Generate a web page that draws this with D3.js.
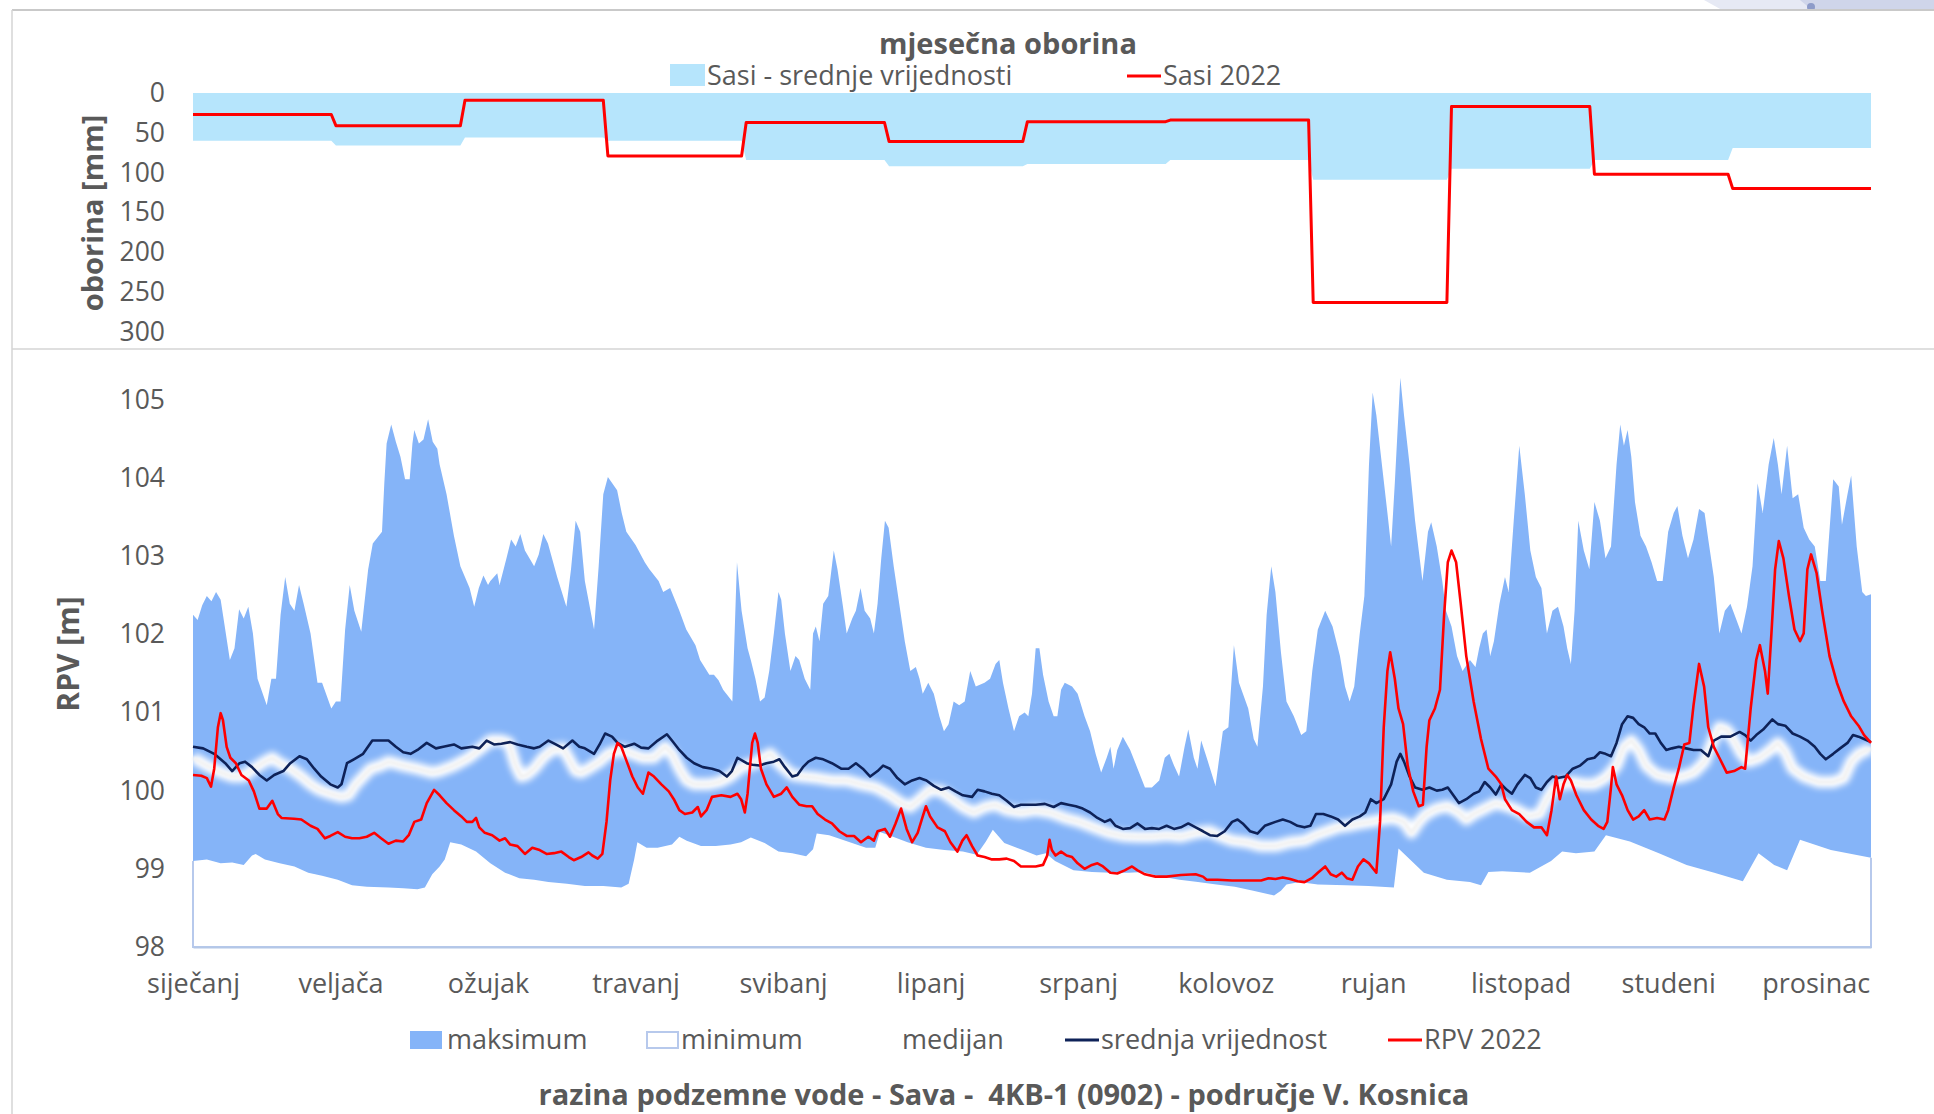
<!doctype html>
<html>
<head>
<meta charset="utf-8"/>
<script src="https://d3js.org/d3.v7.min.js"></script>
<style>
body{margin:0;background:#fff;overflow:hidden;}
text{font-family:"Open Sans",sans-serif;fill:#595959;}
</style>
</head>
<body>
<script>
// ---- data ----
var monthNames=["siječanj","veljača","ožujak","travanj","svibanj","lipanj","srpanj","kolovoz","rujan","listopad","studeni","prosinac"];
var monthDays=[31,28,31,30,31,30,31,31,30,31,30,31];
var precMean=[60,66,56,60,84,92,89,84,109,95,84,69];   // Sasi - srednje vrijednosti [mm]
var prec2022=[27,41,9,79,37,61,36,34,263,17,102,120]; // Sasi 2022 [mm]
var precTicks=[0,50,100,150,200,250,300];
var rpvTicks=[98,99,100,101,102,103,104,105];

// [day of year (0 = 1.1.), RPV m]
var maxData=[[0,102.25],[1,102.18],[2,102.37],[3,102.49],[4,102.42],[5,102.54],[6,102.44],[6.5,102.25],[8,101.67],[9,101.82],[10,102.32],[11,102.2],[12,102.35],[13,102.01],[14,101.43],[16,101.09],[17,101.43],[18,101.43],[19,102.25],[20,102.73],[21,102.39],[22,102.3],[23,102.63],[24,102.39],[25.5,102.01],[27,101.38],[28,101.38],[30,101.05],[31,101.14],[32,101.14],[33,102.06],[34,102.63],[35,102.3],[36.5,102.03],[37,102.3],[38,102.83],[39,103.16],[41,103.31],[41.5,103.93],[42,104.44],[43,104.68],[44,104.46],[45,104.27],[46,103.98],[47,103.98],[47.6,104.44],[48,104.61],[49,104.44],[50,104.49],[51,104.75],[52,104.46],[53,104.37],[53.5,104.17],[55,103.79],[56.6,103.26],[58,102.87],[60,102.59],[61,102.35],[62,102.59],[63,102.75],[64,102.63],[64.5,102.68],[66,102.78],[66.5,102.63],[68,102.97],[69,103.21],[70,103.12],[71,103.28],[72,103.07],[74,102.87],[75,103.02],[76,103.28],[77,103.16],[79,102.73],[81,102.35],[82,102.83],[83,103.45],[84,103.31],[85,102.68],[87,102.06],[88,102.87],[89,103.79],[90,104.01],[92,103.84],[93,103.55],[94,103.31],[96,103.14],[98,102.92],[99,102.83],[101,102.68],[102,102.54],[103.5,102.59],[105.5,102.3],[107,102.06],[109,101.86],[110,101.67],[112,101.48],[113,101.48],[114,101.41],[115,101.29],[117,101.14],[118,102.92],[119,102.3],[120.3,101.82],[121,101.67],[122,101.43],[123,101.14],[124,101.19],[125,101.53],[126,102.01],[127,102.54],[127.6,102.44],[128.4,102.01],[129.6,101.53],[130.7,101.72],[131.5,101.67],[132.7,101.43],[133.9,101.29],[134.5,102.01],[135.1,102.1],[135.9,101.91],[136.7,102.39],[137.8,102.49],[139,103.07],[139.8,102.83],[141,102.35],[141.8,102.01],[143,102.2],[143.8,102.3],[144.8,102.59],[145.7,102.3],[146.9,102.2],[147.7,102.01],[148.5,102.39],[149.3,102.97],[150.1,103.45],[150.9,103.36],[152,102.87],[153.2,102.39],[154.4,101.91],[155.6,101.53],[156.8,101.58],[157.6,101.43],[158.3,101.24],[159.5,101.38],[160.7,101.24],[161.9,100.95],[162.9,100.76],[163.9,100.85],[165,101.14],[166.2,101.09],[167.4,101.14],[168.6,101.53],[169.8,101.33],[171.7,101.38],[172.9,101.43],[174.1,101.62],[174.9,101.67],[175.7,101.38],[176.9,101.05],[178.1,100.76],[179.2,100.95],[180.4,101.0],[181.2,100.95],[182,101.24],[182.8,101.82],[183.6,101.82],[184.4,101.48],[185.6,101.14],[186.7,100.95],[187.5,100.95],[188.3,101.29],[189.1,101.38],[190.7,101.33],[191.9,101.24],[193.4,100.95],[194.6,100.76],[195.8,100.47],[197,100.23],[198.2,100.42],[199,100.56],[199.7,100.28],[200.5,100.52],[201.7,100.69],[203.3,100.52],[204.9,100.28],[206.5,100.04],[208,100.04],[209.6,100.13],[210.8,100.42],[211.8,100.47],[212.8,100.32],[213.9,100.18],[215.1,100.56],[215.9,100.78],[217.1,100.42],[217.9,100.28],[218.7,100.64],[219.9,100.42],[221.8,100.06],[223.4,100.76],[224.6,100.81],[225.8,101.86],[226.9,101.38],[228.9,101.05],[230.1,100.66],[230.9,100.56],[232.1,101.33],[232.9,102.25],[233.9,102.87],[234.8,102.54],[236,101.77],[237.2,101.14],[238.8,100.95],[240.4,100.71],[241.5,100.76],[242.8,101.53],[244,102.06],[245.6,102.3],[247.2,102.1],[248.8,101.72],[249.9,101.33],[250.9,101.14],[251.9,101.33],[253.1,102.01],[254.1,102.49],[255.1,104.17],[255.9,105.09],[256.7,104.8],[257.9,104.17],[259.1,103.55],[259.9,103.12],[260.7,103.93],[261.9,105.28],[262.7,104.8],[263.9,104.17],[265.1,103.45],[266.7,102.68],[267.9,103.31],[268.6,103.43],[269.8,103.12],[271,102.68],[271.8,102.3],[273,102.1],[274.2,101.72],[275.4,101.53],[277,101.67],[278.2,101.58],[279,101.82],[279.8,102.01],[280.6,102.06],[281.4,101.72],[282.2,101.91],[283.4,102.39],[284.6,102.73],[285.4,102.54],[286.5,103.45],[287.7,104.41],[288.9,103.79],[290.1,103.07],[291.3,102.73],[292.5,102.59],[293.7,102.01],[294.9,102.3],[296.1,102.35],[297.3,102.1],[298.1,101.82],[298.9,101.62],[299.7,102.3],[300.5,103.45],[301.7,103.07],[302.9,102.83],[304,103.69],[305.2,103.45],[306.4,102.97],[307.6,103.12],[308.8,104.17],[309.6,104.68],[310.4,104.41],[311.2,104.61],[312,104.27],[312.8,103.69],[314,103.26],[315.2,103.12],[316.4,102.92],[317.6,102.68],[318.8,102.68],[320,103.31],[321.2,103.55],[322,103.64],[323.1,103.26],[324.3,102.97],[325.5,103.21],[326.7,103.6],[327.9,103.55],[328.7,103.21],[329.9,102.73],[331.1,102.01],[332.3,102.3],[333.5,102.39],[334.7,102.2],[335.9,102.01],[337.1,102.35],[338.3,102.87],[339.4,103.93],[340.5,103.55],[341.8,104.17],[342.9,104.51],[343.8,104.17],[344.6,103.79],[345.8,104.41],[347,103.74],[348.2,103.79],[349.4,103.36],[350.6,103.21],[351.8,103.12],[353,102.68],[354.2,102.68],[355.8,103.98],[357,103.89],[357.7,103.4],[358.9,103.79],[359.7,104.03],[360.9,103.12],[362.1,102.54],[362.9,102.49],[364,102.51]];

var minData=[[0,99.1],[3,99.12],[6,99.07],[8.5,99.08],[11,99.05],[12.8,99.17],[13.6,99.19],[15.6,99.12],[18.8,99.07],[22,99.03],[25,98.95],[28,98.91],[31.4,98.86],[34.5,98.79],[37.7,98.77],[42.4,98.76],[45.6,98.75],[48.7,98.74],[50.3,98.76],[51.9,98.93],[53.5,99.03],[54.6,99.12],[55.8,99.34],[58.2,99.31],[61.4,99.22],[64.5,99.07],[67.7,98.95],[70.8,98.88],[74,98.86],[77.1,98.83],[81.1,98.81],[85,98.78],[89,98.78],[92.9,98.76],[94.5,98.81],[95.7,99.12],[96.4,99.34],[98.4,99.27],[100.8,99.27],[103.9,99.31],[105.5,99.41],[107.1,99.36],[110.2,99.29],[113.4,99.29],[116.6,99.31],[118.9,99.34],[121,99.4],[124,99.33],[127,99.22],[130,99.2],[133,99.16],[134.5,99.25],[135.3,99.45],[138,99.43],[142,99.35],[146,99.27],[148,99.27],[149,99.47],[151,99.43],[155,99.34],[159,99.27],[163,99.24],[167,99.22],[170,99.18],[172,99.35],[173.5,99.5],[176,99.33],[180,99.24],[183,99.17],[185,99.2],[187,99.1],[191,98.98],[195,98.96],[199,98.95],[203,98.95],[206,98.96],[210,98.9],[214,98.86],[218,98.83],[222,98.8],[226,98.77],[230,98.72],[234.5,98.66],[236,98.72],[237.2,98.8],[240,98.83],[244,98.8],[250,98.79],[255,98.78],[260.5,98.76],[261.5,99.26],[264,99.12],[267,98.95],[272,98.86],[277,98.83],[279.4,98.79],[281,98.96],[284,98.97],[290,98.95],[294.6,99.1],[297,99.22],[300,99.2],[304,99.22],[306.5,99.43],[311.7,99.35],[318,99.2],[324,99.05],[330,98.95],[336.2,98.84],[339.6,99.2],[343,99.05],[345.8,98.98],[348.6,99.37],[355.3,99.24],[364,99.14]];

var medianData=[[0,100.42],[3,100.32],[6.1,100.23],[8.5,100.18],[10.9,100.18],[13.2,100.28],[15.6,100.37],[17.2,100.42],[18.8,100.35],[21.1,100.28],[23.5,100.18],[25.5,100.08],[27.4,100.01],[29.8,99.96],[32.2,99.92],[33.7,99.94],[35.3,100.08],[36.9,100.18],[38.5,100.28],[40.8,100.32],[42.4,100.37],[45.6,100.32],[48.7,100.28],[51.9,100.23],[53.5,100.25],[56.6,100.32],[59.8,100.42],[62.9,100.56],[64.5,100.64],[66.9,100.64],[68.5,100.61],[70,100.32],[71.2,100.18],[72.4,100.2],[74,100.28],[75.9,100.42],[77.9,100.52],[80.3,100.54],[81.9,100.37],[83,100.25],[84.2,100.23],[85.8,100.28],[88.2,100.37],[90.1,100.47],[92.9,100.52],[95.3,100.47],[97.6,100.42],[100,100.42],[102.4,100.56],[103.9,100.47],[105.5,100.28],[107.1,100.13],[108.7,100.08],[111.8,100.08],[114.2,100.11],[116.6,100.18],[118.9,100.3],[121.9,100.35],[125.2,100.47],[127.6,100.32],[130,100.2],[132.3,100.18],[135.5,100.16],[138.6,100.13],[141.8,100.13],[144.9,100.08],[148.1,100.04],[151.2,99.94],[153.6,99.84],[155.6,99.79],[157.6,99.89],[159.9,100.01],[162.3,99.99],[164.7,99.89],[167,99.79],[169.4,99.72],[171.7,99.79],[174.1,99.82],[176.5,99.75],[179.6,99.72],[182.8,99.75],[186,99.72],[189.1,99.65],[192.3,99.6],[195.4,99.53],[198.6,99.46],[201.7,99.42],[204.9,99.41],[208,99.41],[211.2,99.43],[214.3,99.41],[217.5,99.46],[220.6,99.48],[222.2,99.43],[225.4,99.36],[228.5,99.34],[231.7,99.29],[234.8,99.29],[238,99.34],[241.2,99.36],[243.6,99.43],[246,99.48],[248.4,99.53],[250.7,99.55],[253.1,99.58],[255.5,99.6],[257.9,99.63],[260.3,99.65],[262.7,99.6],[264.3,99.46],[265.9,99.6],[267.5,99.7],[269.8,99.77],[272.2,99.8],[274.6,99.72],[276.2,99.63],[277.8,99.7],[280.2,99.77],[282.6,99.84],[285,99.8],[287.3,99.75],[289.7,99.67],[292.1,99.7],[293.7,99.89],[295.3,100.04],[296.9,100.08],[299.3,100.11],[301.7,100.08],[304,100.08],[306.4,100.16],[308.8,100.32],[310.4,100.56],[312,100.64],[313.6,100.52],[315.2,100.32],[317.6,100.2],[320.8,100.16],[323.1,100.18],[325.5,100.23],[327.9,100.37],[329.5,100.61],[331.1,100.81],[332.7,100.78],[334.3,100.64],[335.9,100.47],[337.5,100.37],[339.9,100.42],[342.2,100.52],[343.8,100.61],[345.4,100.49],[347,100.28],[349.4,100.18],[352.6,100.11],[355.8,100.11],[358.1,100.16],[359.7,100.37],[361.3,100.47],[364,100.54]];

var meanData=[[0,100.56],[2.2,100.54],[4.6,100.47],[7,100.35],[8.5,100.25],[10.1,100.35],[11.3,100.37],[12.8,100.3],[14.4,100.2],[16,100.13],[17.6,100.2],[19.6,100.25],[21.1,100.35],[23.1,100.44],[24.7,100.4],[26.3,100.28],[27.8,100.18],[29.8,100.08],[31.4,100.04],[32.2,100.08],[33.4,100.35],[34.9,100.4],[36.9,100.47],[38.9,100.64],[40.8,100.64],[42.4,100.64],[44,100.56],[45.6,100.49],[47.2,100.47],[48.7,100.52],[50.7,100.61],[52.7,100.54],[54.3,100.56],[56.6,100.59],[58.2,100.54],[60.6,100.56],[62.1,100.54],[63.7,100.64],[65.3,100.59],[66.9,100.6],[68.8,100.62],[70.4,100.59],[72.4,100.56],[74,100.54],[75.2,100.56],[77.1,100.64],[78.7,100.59],[80.3,100.54],[82.3,100.64],[83.8,100.56],[85,100.54],[87,100.47],[88.2,100.59],[89.4,100.73],[90.9,100.69],[92.1,100.61],[93.7,100.56],[95.7,100.6],[97.2,100.55],[98.8,100.54],[100.8,100.64],[102.8,100.72],[103.9,100.64],[105.5,100.52],[107.1,100.42],[108.7,100.35],[110.6,100.3],[112.6,100.28],[114.2,100.25],[115.8,100.18],[116.9,100.25],[118.1,100.42],[120.1,100.35],[121.3,100.33],[122.9,100.32],[124.4,100.35],[126,100.37],[127.2,100.4],[128.4,100.3],[130,100.18],[131.1,100.2],[132.3,100.3],[133.5,100.37],[135.1,100.42],[136.7,100.4],[138.6,100.35],[140.6,100.28],[142.2,100.28],[143.8,100.35],[145.3,100.28],[146.9,100.18],[148.5,100.25],[149.7,100.32],[151.2,100.28],[152.8,100.16],[154.4,100.08],[156,100.13],[157.6,100.16],[159.1,100.13],[160.7,100.06],[162.3,100.01],[163.9,100.04],[165.4,99.99],[167,99.94],[169,99.92],[170.2,100.01],[171.7,99.99],[173.3,99.96],[174.9,99.94],[176.5,99.87],[178.1,99.79],[179.6,99.82],[181.2,99.82],[182.8,99.82],[184.8,99.83],[186.7,99.79],[188.3,99.84],[189.9,99.82],[191.5,99.8],[193,99.77],[194.6,99.72],[196.2,99.65],[197.8,99.6],[199,99.63],[200.1,99.55],[201.7,99.51],[203.3,99.52],[204.9,99.58],[206.5,99.51],[208,99.52],[209.6,99.51],[211.2,99.55],[212.8,99.51],[214.3,99.53],[215.9,99.58],[217.5,99.53],[219.1,99.48],[220.6,99.43],[222.2,99.42],[223.8,99.48],[225.4,99.6],[226.6,99.63],[227.7,99.58],[229.3,99.48],[230.9,99.45],[232.5,99.55],[234.8,99.6],[236.4,99.63],[238,99.6],[239.6,99.55],[241.1,99.53],[242.4,99.55],[243.6,99.7],[245.2,99.7],[246.8,99.67],[248.4,99.63],[249.9,99.55],[251.5,99.63],[253.1,99.67],[254.3,99.72],[255.5,99.89],[256.7,99.84],[258.3,99.89],[259.9,100.08],[261.1,100.37],[261.9,100.47],[262.7,100.37],[263.9,100.18],[265.1,100.04],[266.7,100.01],[268.2,100.04],[269.8,100.0],[271,100.01],[272.2,100.04],[273.4,99.94],[274.6,99.84],[276.2,99.89],[277.8,99.96],[279,99.99],[280.2,100.11],[281.4,100.04],[282.6,99.95],[283.8,100.08],[285,100.01],[286.1,99.96],[287.3,100.08],[288.9,100.2],[290.1,100.16],[291.3,100.04],[292.5,100.01],[293.7,100.11],[294.9,100.18],[296.1,100.16],[297.7,100.18],[299.3,100.28],[300.9,100.32],[302.5,100.4],[304,100.42],[305.2,100.49],[306.4,100.47],[307.6,100.44],[308.8,100.61],[310,100.85],[311.2,100.95],[312.4,100.93],[313.6,100.85],[314.8,100.81],[316,100.73],[317.2,100.73],[318.4,100.61],[319.6,100.52],[320.8,100.54],[322.3,100.56],[323.9,100.54],[325.5,100.52],[327.1,100.52],[328.7,100.44],[329.9,100.64],[331.5,100.69],[333.5,100.69],[335.5,100.75],[336.7,100.71],[337.9,100.64],[339.1,100.71],[340.6,100.78],[342.6,100.91],[343.8,100.85],[345.4,100.83],[347,100.73],[348.6,100.69],[350.2,100.64],[351.8,100.56],[353,100.47],[354.2,100.4],[355.8,100.47],[357.3,100.54],[358.9,100.61],[360.1,100.71],[361.3,100.69],[362.5,100.66],[364,100.62]];

var rpv2022=[[0,100.2],[1.8,100.19],[3,100.16],[3.9,100.05],[4.6,100.28],[5.4,100.81],[6,100.99],[6.5,100.9],[7.3,100.56],[8.1,100.42],[9.3,100.35],[10.5,100.2],[12.1,100.13],[13.2,99.99],[14.4,99.77],[16,99.77],[17.2,99.87],[18.4,99.7],[19.2,99.65],[21.9,99.64],[23.5,99.63],[25.5,99.55],[27,99.51],[28.6,99.39],[29.8,99.42],[31.4,99.47],[33,99.41],[34.5,99.39],[36.1,99.39],[37.7,99.41],[39.3,99.46],[40.8,99.39],[42.4,99.32],[44,99.36],[45.6,99.35],[46.8,99.43],[48,99.6],[49.5,99.63],[50.7,99.84],[52.3,100.01],[53.5,99.94],[55,99.84],[56.6,99.75],[58.2,99.67],[59.4,99.6],[60.6,99.6],[61.4,99.65],[62.1,99.53],[63.3,99.46],[64.9,99.43],[66.5,99.36],[67.7,99.39],[68.8,99.31],[70.4,99.29],[72,99.19],[73.6,99.27],[75.2,99.24],[76.7,99.19],[78.3,99.2],[79.9,99.22],[81.5,99.15],[82.6,99.11],[84.2,99.15],[85.8,99.21],[86.6,99.17],[87.8,99.13],[88.8,99.19],[89.7,99.6],[90.5,100.13],[91.3,100.47],[92.1,100.61],[92.9,100.56],[94.1,100.37],[95.3,100.18],[96.5,100.04],[97.6,99.96],[98.8,100.23],[100,100.18],[101.6,100.08],[103.2,99.99],[104.3,99.89],[105.5,99.75],[106.7,99.7],[108.3,99.72],[109.5,99.79],[110.2,99.67],[111.4,99.75],[112.6,99.92],[114.6,99.94],[116.6,99.92],[118.1,99.96],[118.9,99.89],[119.7,99.72],[120.3,99.96],[121.3,100.61],[121.9,100.73],[122.5,100.61],[123.2,100.28],[124.4,100.08],[126,99.92],[127.6,99.96],[128.8,100.04],[130,99.92],[131.5,99.82],[133.1,99.8],[134.3,99.8],[135.5,99.7],[137.1,99.63],[138.6,99.58],[140.2,99.48],[141.8,99.42],[143.4,99.42],[144.9,99.34],[146.5,99.41],[147.7,99.36],[148.5,99.48],[150.1,99.51],[151.2,99.41],[152.4,99.58],[153.6,99.77],[154.8,99.51],[156,99.34],[157.2,99.46],[158.2,99.65],[159,99.8],[159.9,99.67],[161.5,99.53],[163.1,99.48],[164.3,99.34],[165.8,99.22],[166.9,99.36],[167.8,99.43],[169,99.29],[170.2,99.17],[171.7,99.15],[173.3,99.12],[174.9,99.12],[176.5,99.13],[178.1,99.1],[179.6,99.03],[181.2,99.03],[182.8,99.03],[184.4,99.05],[185.3,99.17],[185.8,99.37],[186.3,99.24],[187.1,99.17],[188.3,99.22],[189.5,99.17],[190.7,99.15],[191.9,99.07],[193.4,99.0],[195,99.05],[196.2,99.07],[197.4,99.03],[199,98.95],[200.5,98.94],[202.1,98.98],[203.7,99.03],[204.9,98.98],[206.5,98.93],[208.8,98.9],[211.2,98.9],[214.3,98.92],[217.5,98.93],[219.1,98.9],[219.9,98.86],[222.2,98.86],[225.4,98.85],[228.5,98.85],[231.7,98.85],[233.3,98.88],[234.8,98.87],[236.4,98.89],[238,98.87],[239.6,98.84],[241.1,98.83],[242.7,98.88],[244,98.95],[245.6,99.03],[246.8,98.93],[248,98.9],[249.2,98.95],[250.3,98.88],[251.5,98.86],[252.7,99.03],[253.9,99.12],[255.1,99.07],[256.7,98.95],[257.5,99.6],[258.3,100.81],[259.1,101.53],[259.7,101.77],[260.7,101.43],[261.5,101.05],[262.5,100.85],[263.5,100.32],[264.7,99.99],[265.9,99.8],[266.8,99.82],[267.6,100.56],[268.2,100.9],[269.4,101.05],[270.5,101.29],[271.4,102.25],[272.2,102.92],[273,103.07],[274,102.92],[275,102.39],[276.2,101.72],[277.8,101.14],[279.4,100.66],[281,100.28],[282.6,100.18],[283.8,100.08],[284.6,99.89],[286.1,99.75],[287.7,99.7],[289.3,99.6],[290.9,99.53],[292.5,99.53],[293.7,99.43],[294.7,99.75],[295.7,100.18],[296.5,99.89],[297.3,100.08],[298.1,100.2],[298.9,100.13],[300.1,99.94],[301.7,99.75],[303.3,99.63],[304.8,99.55],[306,99.51],[306.8,99.6],[307.6,100.04],[308,100.3],[308.8,100.08],[310,99.94],[311.2,99.75],[312.4,99.63],[313.6,99.67],[314.8,99.75],[316,99.63],[317.6,99.65],[319.2,99.63],[320,99.75],[321.2,100.04],[322.3,100.28],[323.5,100.59],[324.6,100.61],[325.5,101.09],[326.7,101.62],[327.8,101.33],[328.7,100.81],[329.9,100.56],[331.1,100.42],[332.7,100.23],[334.3,100.25],[335.9,100.3],[336.7,100.28],[337.9,101.05],[339.1,101.67],[339.9,101.86],[341,101.53],[341.6,101.24],[342.4,102.01],[343.2,102.83],[344,103.19],[345,102.97],[346.2,102.49],[347.4,102.06],[348.6,101.91],[349.4,102.01],[350.2,102.83],[351,103.02],[352.2,102.78],[353.4,102.3],[355,101.72],[356.6,101.38],[358.1,101.14],[359.7,100.95],[361.3,100.83],[362.5,100.71],[364,100.61]];

// ---- layout ----
var W=1934,H=1114;
var LABEL_STEP=32;  // month label every 32 days, like the original category axis
var svg=d3.select("body").append("svg").attr("width",W).attr("height",H);
var defs=svg.append("defs");
defs.append("filter").attr("id","glow").attr("x","-5%").attr("y","-50%").attr("width","110%").attr("height","200%")
  .append("feGaussianBlur").attr("stdDeviation",3);
defs.append("filter").attr("id","soft").attr("x","-5%").attr("y","-50%").attr("width","110%").attr("height","200%")
  .append("feGaussianBlur").attr("stdDeviation",0.8);

var x=d3.scaleLinear().domain([0,364]).range([193,1871]);
var yP=d3.scaleLinear().domain([0,300]).range([93,332]);
var yR=d3.scaleLinear().domain([98,105]).range([947,399.6]);

// frames
svg.append("path").attr("d","M1704,0 L1722,10 L1934,10 L1934,0 Z").attr("fill","#e6e9f4");
svg.append("path").attr("d","M1800,0 L1812,10 L1934,10 L1934,0 Z").attr("fill","#cfd5ea");
svg.append("circle").attr("cx",1811).attr("cy",7).attr("r",4).attr("fill","#8d9bc9");
svg.append("line").attr("x1",12).attr("x2",W).attr("y1",10).attr("y2",10).attr("stroke","#c9c9c9").attr("stroke-width",2);
svg.append("line").attr("x1",12).attr("x2",12).attr("y1",10).attr("y2",H).attr("stroke","#d4d4d4").attr("stroke-width",1.5);
svg.append("line").attr("x1",12).attr("x2",W).attr("y1",349).attr("y2",349).attr("stroke","#d4d4d4").attr("stroke-width",1.5);

// ---- top: monthly precipitation ----
function monthSteps(vals){
  var pts=[],start=0;
  vals.forEach(function(v,i){
    var end=Math.min(start+monthDays[i]-1,364);
    pts.push([start,v]); pts.push([end,v]);
    start+=monthDays[i];
  });
  return pts;
}
var gTop=svg.append("g");
gTop.append("path").datum(monthSteps(precMean))
  .attr("d",d3.area().x(function(d){return x(d[0]);}).y0(yP(0)).y1(function(d){return yP(d[1]);}))
  .attr("fill","#b6e5fc");
gTop.append("path").datum(monthSteps(prec2022))
  .attr("d",d3.line().x(function(d){return x(d[0]);}).y(function(d){return yP(d[1]);}))
  .attr("fill","none").attr("stroke","#ff0000").attr("stroke-width",3).attr("stroke-linejoin","round");

var ayP=gTop.append("g").attr("transform","translate(165,0)")
  .call(d3.axisLeft(yP).tickValues(precTicks).tickSize(0).tickPadding(0));
ayP.select(".domain").remove();
ayP.selectAll("text").style("font-family","'Open Sans',sans-serif").style("font-size","26.5px").attr("fill","#595959");

gTop.append("text").attr("x",1008).attr("y",44).attr("dy","0.35em").attr("text-anchor","middle")
  .style("font-size","29px").style("font-weight","bold").text("mjesečna oborina");
gTop.append("text").attr("transform","translate(93,213) rotate(-90)").attr("dy","0.35em").attr("text-anchor","middle")
  .style("font-size","29px").style("font-weight","bold").text("oborina [mm]");
// top legend
gTop.append("rect").attr("x",670).attr("y",64).attr("width",35).attr("height",22).attr("fill","#b6e5fc");
gTop.append("text").attr("x",707).attr("y",76).attr("dy","0.35em").style("font-size","27px").text("Sasi - srednje vrijednosti");
gTop.append("line").attr("x1",1127).attr("x2",1161).attr("y1",76).attr("y2",76).attr("stroke","#ff0000").attr("stroke-width",3);
gTop.append("text").attr("x",1163).attr("y",76).attr("dy","0.35em").style("font-size","27px").text("Sasi 2022");

// ---- bottom: groundwater level ----
var bot=svg.append("g");
var area=function(data){
  return d3.area().x(function(d){return x(d[0]);}).y0(yR(98)).y1(function(d){return yR(d[1]);})(data);
};
var line=d3.line().x(function(d){return x(d[0]);}).y(function(d){return yR(d[1]);});

bot.append("path").attr("d",area(maxData)).attr("fill","#85b4f8");
bot.append("path").attr("d",area(minData)).attr("fill","#ffffff");
// outline of minimum area (sides + base)
var m0=minData[0],m1=minData[minData.length-1];
bot.append("path")
  .attr("d","M"+x(m0[0])+","+yR(m0[1])+"L"+x(m0[0])+","+yR(98)+"L"+x(m1[0])+","+yR(98)+"L"+x(m1[0])+","+yR(m1[1]))
  .attr("fill","none").attr("stroke","#b7c9ec").attr("stroke-width",2);

// median with soft white glow
bot.append("path").attr("d",line(medianData)).attr("fill","none").attr("stroke","#ffffff")
  .attr("stroke-width",12).attr("stroke-linejoin","round").attr("filter","url(#glow)");
bot.append("path").attr("d",line(medianData)).attr("fill","none").attr("stroke","#f3f3f3")
  .attr("stroke-width",4).attr("stroke-linejoin","round").attr("filter","url(#soft)");

bot.append("path").attr("d",line(meanData)).attr("fill","none").attr("stroke","#0e2258")
  .attr("stroke-width",2.6).attr("stroke-linejoin","round");
bot.append("path").attr("d",line(rpv2022)).attr("fill","none").attr("stroke","#ff0000")
  .attr("stroke-width",2.6).attr("stroke-linejoin","round");

var ayR=bot.append("g").attr("transform","translate(165,0)")
  .call(d3.axisLeft(yR).tickValues(rpvTicks).tickSize(0).tickPadding(0).tickFormat(d3.format("d")));
ayR.select(".domain").remove();
ayR.selectAll("text").style("font-family","'Open Sans',sans-serif").style("font-size","26.5px").attr("fill","#595959");

var axX=bot.append("g").attr("transform","translate(0,947)")
  .call(d3.axisBottom(x).tickValues(monthNames.map(function(m,i){return i*LABEL_STEP;}))
    .tickFormat(function(d){return monthNames[d/LABEL_STEP];}).tickSize(0).tickPadding(27));
axX.select(".domain").attr("stroke","#b4c7e7").attr("stroke-width",2);
axX.selectAll("text").style("font-family","'Open Sans',sans-serif").style("font-size","27px").attr("fill","#595959");

bot.append("text").attr("transform","translate(68,654) rotate(-90)").attr("dy","0.35em").attr("text-anchor","middle")
  .style("font-size","30px").style("font-weight","bold").text("RPV [m]");

// bottom legend
var ly=1040;
bot.append("rect").attr("x",410).attr("y",1031).attr("width",32).attr("height",18).attr("fill","#85b4f8");
bot.append("text").attr("x",447).attr("y",ly).attr("dy","0.35em").style("font-size","27px").text("maksimum");
bot.append("rect").attr("x",647).attr("y",1032).attr("width",31).attr("height",16).attr("fill","#fff").attr("stroke","#b7c9ec").attr("stroke-width",2);
bot.append("text").attr("x",681).attr("y",ly).attr("dy","0.35em").style("font-size","27px").text("minimum");
bot.append("line").attr("x1",866).attr("x2",899).attr("y1",ly).attr("y2",ly).attr("stroke","#ffffff").attr("stroke-width",3);
bot.append("text").attr("x",902).attr("y",ly).attr("dy","0.35em").style("font-size","27px").text("medijan");
bot.append("line").attr("x1",1065).attr("x2",1099).attr("y1",ly).attr("y2",ly).attr("stroke","#0e2258").attr("stroke-width",3);
bot.append("text").attr("x",1101).attr("y",ly).attr("dy","0.35em").style("font-size","27px").text("srednja vrijednost");
bot.append("line").attr("x1",1388).attr("x2",1422).attr("y1",ly).attr("y2",ly).attr("stroke","#ff0000").attr("stroke-width",3);
bot.append("text").attr("x",1424).attr("y",ly).attr("dy","0.35em").style("font-size","27px").text("RPV 2022");

bot.append("text").attr("x",1004).attr("y",1095).attr("dy","0.35em").attr("text-anchor","middle")
  .style("font-size","29px").style("font-weight","bold").style("white-space","pre")
  .text("razina podzemne vode - Sava -  4KB-1 (0902) - područje V. Kosnica");
</script>
</body>
</html>
